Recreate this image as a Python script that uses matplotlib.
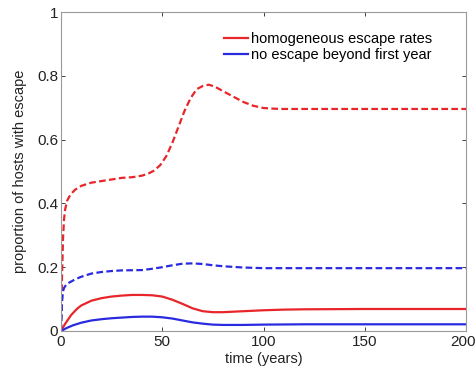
import matplotlib
matplotlib.use("Agg")
import matplotlib.pyplot as plt
import matplotlib.transforms as mtransforms

plt.rcParams['font.family'] = ['Liberation Sans', 'DejaVu Sans']

t_red_dash = [0, 0.5, 1, 1.5, 2, 3, 4, 5, 7, 10, 15, 20, 25, 30, 35, 40, 43, 46, 49, 52, 55, 58, 61, 64, 67, 70, 73, 76, 80, 85, 90, 95, 100, 105, 110, 120, 140, 200]
red_dash = [0, 0.17, 0.29, 0.35, 0.38, 0.408, 0.42, 0.43, 0.443, 0.455, 0.465, 0.47, 0.475, 0.48, 0.482, 0.487, 0.493, 0.503, 0.52, 0.548, 0.59, 0.64, 0.69, 0.73, 0.758, 0.768, 0.772, 0.766, 0.752, 0.735, 0.718, 0.706, 0.699, 0.697, 0.696, 0.696, 0.696, 0.696]

t_blue_dash = [0, 0.5, 1, 1.5, 2, 3, 5, 7, 10, 15, 20, 25, 30, 40, 45, 50, 55, 60, 65, 70, 75, 80, 90, 100, 110, 200]
blue_dash = [0, 0.09, 0.125, 0.135, 0.14, 0.148, 0.155, 0.162, 0.17, 0.18, 0.185, 0.188, 0.19, 0.191, 0.195, 0.2, 0.206, 0.211, 0.212, 0.21, 0.206, 0.203, 0.199, 0.197, 0.197, 0.197]

t_red = [0, 2, 5, 8, 10, 15, 20, 25, 30, 35, 40, 45, 50, 55, 60, 65, 70, 75, 80, 90, 100, 110, 120, 150, 200]
red = [0, 0.022, 0.05, 0.07, 0.08, 0.095, 0.103, 0.108, 0.111, 0.113, 0.113, 0.112, 0.108, 0.098, 0.085, 0.071, 0.062, 0.059, 0.059, 0.062, 0.065, 0.067, 0.068, 0.069, 0.069]

t_blue = [0, 3, 6, 10, 15, 20, 25, 30, 35, 40, 45, 50, 55, 60, 65, 70, 75, 80, 90, 100, 120, 200]
blue = [0, 0.01, 0.018, 0.026, 0.033, 0.037, 0.04, 0.042, 0.044, 0.045, 0.045, 0.043, 0.039, 0.033, 0.027, 0.023, 0.02, 0.019, 0.019, 0.02, 0.021, 0.021]

fig = plt.figure(figsize=(4.77, 3.72), dpi=100)
ax = fig.add_axes([61/477, 1-331/372, (466-61)/477, (331-12)/372])

red_c = '#e8262a'
blue_c = '#2a2ae0'
ax.plot(t_red, red, color=red_c, lw=1.6, label='homogeneous escape rates')
ax.plot(t_blue, blue, color=blue_c, lw=1.6, label='no escape beyond first year')
ax.plot(t_red_dash, red_dash, color=red_c, lw=1.6, ls=(0, (3, 1.5)))
ax.plot(t_blue_dash, blue_dash, color=blue_c, lw=1.6, ls=(0, (3, 1.5)))

ax.set_xlim(0, 200)
ax.set_ylim(0, 1)
ax.set_xticks([0, 50, 100, 150, 200])
ax.set_yticks([0, 0.2, 0.4, 0.6, 0.8, 1])
ax.set_yticklabels(['0', '0.2', '0.4', '0.6', '0.8', '1'])
ax.tick_params(direction='in', top=True, right=True, labelsize=11, colors='#222222', length=3, width=0.6, pad=2)
ax.tick_params(axis='x', pad=3)
for s in ax.spines.values():
    s.set_color('#999999')
    s.set_linewidth(0.8)
ax.set_xlabel('time (years)', fontsize=10.5, color='#222222', labelpad=2)
ax.set_ylabel('proportion of hosts with escape', fontsize=10.5, color='#222222', labelpad=7)

last = ax.get_xticklabels()[-1]
last.set_transform(last.get_transform() + mtransforms.ScaledTranslation(-3/100, 0, fig.dpi_scale_trans))

leg = ax.legend(loc='upper right', bbox_to_anchor=(0.93, 0.955), frameon=False, fontsize=10.5,
                handlelength=1.6, handletextpad=0.2, labelspacing=0.15, borderaxespad=0)

fig.savefig('out.png', dpi=100)
